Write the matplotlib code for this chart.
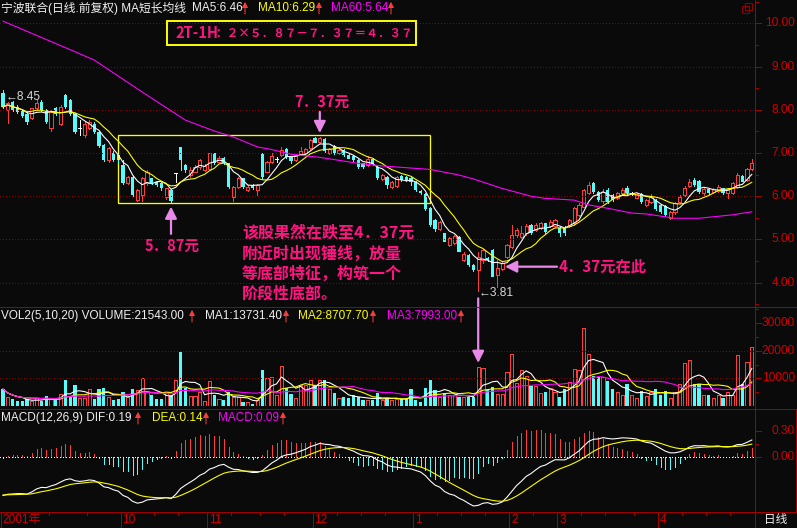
"""宁波联合 daily K-line, TDX dark style: price + MA, VOL2 and MACD panels."""
import numpy as np
import pandas as pd
import matplotlib
matplotlib.use("Agg")
import matplotlib.pyplot as plt
from matplotlib.patches import Rectangle, FancyArrowPatch
from matplotlib.lines import Line2D

W, H = 797, 528
BG     = "#0a0a0a"
UP     = "#ff3c3c"
DOWN   = "#54fcfc"
AXIS   = "#a00000"
LABEL  = "#d00000"
GRID   = "#8a0000"
PINK   = "#ff1482"
LILAC  = "#e888e8"
YELLOW = "#ffff00"
MAG    = "#ff00ff"
WHITE  = "#f0f0f0"
PX = 0.72  # one pixel in points at dpi 100
LW = 0.78  # indicator line width

plt.rcParams["font.family"] = ["Liberation Sans", "Noto Sans CJK SC", "DejaVu Sans"]
CJK = ["Noto Sans CJK SC", "DejaVu Sans"]

# ---- values (one candle per trading day) -----------------------------------
opens = [8.38, 7.99, 8.18, 8.07, 7.99, 7.91, 7.80, 8.03, 8.18, 7.99,
         7.57, 8.03, 7.68, 8.34, 8.22, 7.91, 7.57, 7.41, 7.57, 7.68,
         7.49, 7.18, 6.84, 6.99, 6.95, 6.72, 6.31, 6.45, 5.91, 6.03,
         6.30, 6.41, 6.33, 6.30, 5.99, 6.14, 6.54, 7.13, 6.72, 6.49,
         6.57, 6.68, 6.61, 6.64, 6.99, 6.80, 6.88, 6.76, 5.99, 6.22,
         6.41, 6.14, 6.26, 6.14, 6.97, 6.57, 6.80, 6.87, 6.95, 7.10,
         6.91, 6.84, 6.98, 7.00, 7.11, 7.34, 7.26, 7.33, 6.99, 7.16,
         6.99, 7.07, 6.95, 6.93, 6.84, 6.76, 6.72, 6.86, 6.67, 6.39,
         6.45, 6.22, 6.24, 6.47, 6.45, 6.43, 6.33, 6.13, 6.05, 5.72,
         5.45, 5.25, 5.14, 4.87, 4.91, 5.05, 4.53, 4.64, 4.41, 4.30,
         4.53, 4.58, 4.76, 4.18, 4.31, 4.60, 4.83, 5.10, 5.06, 5.14,
         5.33, 5.22, 5.26, 5.37, 5.30, 5.30, 5.26, 5.26, 5.30, 5.37,
         5.57, 5.76, 6.07, 6.30, 6.10, 5.88, 6.14, 6.03, 5.95, 6.07,
         6.20, 6.07, 5.97, 6.05, 5.80, 5.87, 5.91, 5.80, 5.78, 5.49,
         5.64, 5.87, 6.03, 6.24, 6.37, 6.35, 6.07, 6.16, 6.10, 6.13,
         6.18, 6.07, 6.07, 6.22, 6.47, 6.37, 6.62]
highs = [8.45, 8.17, 8.20, 8.10, 8.02, 7.95, 8.05, 8.22, 8.22, 8.02,
         7.98, 8.06, 8.10, 8.36, 8.25, 7.93, 7.76, 7.72, 7.76, 7.72,
         7.52, 7.20, 7.14, 7.05, 6.97, 6.84, 6.47, 6.47, 6.16, 6.45,
         6.60, 6.43, 6.35, 6.33, 6.20, 6.16, 6.54, 7.15, 6.74, 6.68,
         6.72, 6.86, 6.74, 7.01, 7.01, 6.93, 6.90, 6.78, 6.24, 6.45,
         6.43, 6.26, 6.28, 6.28, 6.99, 6.82, 6.99, 6.90, 7.13, 7.12,
         6.93, 6.97, 7.13, 7.12, 7.32, 7.36, 7.37, 7.35, 7.12, 7.18,
         7.11, 7.09, 6.97, 6.95, 6.86, 6.78, 6.93, 6.88, 6.69, 6.51,
         6.47, 6.35, 6.47, 6.49, 6.47, 6.45, 6.35, 6.15, 6.08, 5.74,
         5.47, 5.42, 5.16, 5.05, 5.10, 5.07, 4.70, 4.66, 4.43, 4.70,
         4.78, 4.60, 4.78, 4.52, 4.47, 4.89, 5.33, 5.26, 5.30, 5.35,
         5.35, 5.37, 5.41, 5.39, 5.45, 5.48, 5.28, 5.30, 5.47, 5.76,
         5.85, 6.16, 6.33, 6.33, 6.12, 6.16, 6.20, 6.05, 6.10, 6.20,
         6.24, 6.10, 6.07, 6.07, 5.93, 6.05, 5.93, 5.82, 5.80, 5.66,
         5.86, 6.03, 6.24, 6.39, 6.41, 6.37, 6.18, 6.18, 6.18, 6.26,
         6.20, 6.18, 6.33, 6.53, 6.49, 6.66, 6.85]
lows = [8.05, 7.70, 7.97, 7.92, 7.83, 7.68, 7.78, 8.00, 7.97, 7.70,
        7.50, 7.89, 7.65, 8.05, 7.89, 7.47, 7.41, 7.38, 7.55, 7.47,
        7.14, 6.82, 6.80, 6.82, 6.80, 6.28, 6.29, 6.00, 5.88, 5.88,
        6.26, 6.28, 6.24, 6.14, 5.93, 5.87, 6.34, 6.61, 6.57, 6.45,
        6.55, 6.63, 6.59, 6.62, 6.74, 6.78, 6.74, 6.20, 5.89, 6.18,
        6.20, 6.12, 6.16, 6.03, 6.43, 6.55, 6.76, 6.80, 6.93, 6.88,
        6.78, 6.82, 6.96, 6.98, 7.08, 7.22, 7.24, 7.03, 6.97, 6.98,
        6.97, 6.93, 6.85, 6.82, 6.65, 6.66, 6.70, 6.72, 6.39, 6.37,
        6.18, 6.20, 6.22, 6.35, 6.35, 6.26, 6.12, 6.05, 5.68, 5.31,
        5.20, 5.22, 4.93, 4.85, 4.89, 4.70, 4.50, 4.39, 4.26, 3.81,
        4.45, 4.50, 4.12, 3.91, 4.29, 4.58, 4.81, 5.06, 5.03, 5.10,
        5.12, 5.20, 5.24, 5.16, 5.28, 5.28, 5.08, 5.10, 5.28, 5.33,
        5.55, 5.74, 6.05, 6.08, 5.89, 5.85, 5.85, 5.89, 5.93, 6.05,
        6.05, 6.03, 5.95, 5.85, 5.78, 5.85, 5.68, 5.62, 5.55, 5.47,
        5.60, 5.85, 6.01, 6.22, 6.24, 6.08, 6.03, 6.05, 6.08, 6.10,
        6.05, 5.95, 6.05, 6.20, 6.32, 6.35, 6.60]
closes = [8.07, 8.15, 7.99, 7.95, 7.85, 7.72, 8.03, 8.15, 7.99, 7.72,
          7.95, 7.91, 8.07, 8.07, 7.91, 7.49, 7.57, 7.68, 7.72, 7.49,
          7.16, 6.84, 7.11, 6.84, 6.84, 6.30, 6.45, 6.03, 6.14, 6.41,
          6.56, 6.30, 6.26, 6.18, 6.18, 5.88, 6.54, 6.84, 6.61, 6.61,
          6.68, 6.84, 6.70, 6.99, 6.76, 6.88, 6.76, 6.22, 6.22, 6.41,
          6.22, 6.22, 6.18, 6.26, 6.45, 6.80, 6.93, 6.87, 7.07, 6.90,
          6.82, 6.95, 7.05, 7.10, 7.30, 7.24, 7.35, 7.05, 7.10, 7.00,
          7.08, 6.95, 6.87, 6.84, 6.67, 6.68, 6.86, 6.74, 6.41, 6.49,
          6.26, 6.33, 6.45, 6.37, 6.37, 6.33, 6.14, 6.07, 5.70, 5.33,
          5.25, 5.40, 4.95, 5.03, 5.07, 4.72, 4.66, 4.41, 4.30, 4.60,
          4.76, 4.52, 4.14, 4.33, 4.45, 4.87, 5.10, 5.22, 5.14, 5.31,
          5.14, 5.33, 5.37, 5.18, 5.41, 5.45, 5.14, 5.14, 5.45, 5.72,
          5.80, 6.14, 6.26, 6.10, 5.91, 6.10, 5.87, 5.91, 6.07, 6.14,
          6.07, 6.07, 6.05, 5.87, 5.91, 5.99, 5.70, 5.64, 5.57, 5.64,
          5.84, 5.99, 6.18, 6.34, 6.26, 6.10, 6.16, 6.07, 6.16, 6.22,
          6.07, 6.16, 6.30, 6.49, 6.34, 6.64, 6.76]
volumes = [6100, 3300, 2500, 1800, 1800, 2500, 1800, 2800, 1900, 3600,
           2400, 2400, 4300, 9300, 3600, 7500, 2800, 2800, 6300, 2500,
           6100, 6500, 3300, 2100, 2400, 5200, 3300, 6300, 5900, 10200,
           5400, 3900, 2500, 2500, 5000, 3900, 9300, 19700, 6500, 3600,
           3600, 5000, 1700, 8900, 4100, 2500, 2100, 5000, 3300, 3300,
           1500, 1500, 700, 2100, 13200, 10200, 10600, 4000, 14600, 6500,
           4300, 2800, 7500, 7500, 9300, 7500, 9600, 9600, 6300, 4600,
           3000, 3300, 3000, 4000, 3300, 2000, 2200, 2000, 4600, 2000,
           3000, 2000, 2500, 2700, 2700, 6100, 2100, 1500, 6700, 9300,
           5800, 3300, 4800, 4000, 4000, 3300, 3300, 3300, 3300, 14300,
           13600, 5800, 7000, 4200, 4200, 12200, 18800, 8500, 13100, 11000,
           7400, 7100, 4700, 4900, 6700, 4900, 3300, 6300, 8700, 13500,
           13000, 28300, 18800, 10800, 10500, 10400, 9000, 6000, 5000, 4000,
           8000, 4000, 3000, 5500, 3500, 5000, 6000, 4000, 5500, 3000,
           5000, 8000, 15500, 16700, 8000, 8000, 4000, 4000, 3000, 4000,
           3000, 5000, 4000, 18600, 8000, 16000, 21543]
# MA60 read at points along the magenta line (its history lies before the window)
ma60_idx = [0, 14, 19, 29, 38, 44, 48, 53, 56, 60, 66, 74, 79, 89, 95, 98,
            104, 110, 113, 119, 122, 126, 131, 134, 140, 145, 152, 156]
ma60_val = [10.05, 9.39, 9.15, 8.41, 7.76, 7.51, 7.37, 7.14, 7.08, 6.97, 6.90,
            6.76, 6.70, 6.62, 6.49, 6.40, 6.18, 6.00, 5.95, 5.91, 5.80, 5.72,
            5.61, 5.59, 5.49, 5.49, 5.57, 5.64]
# EMA state on the first day, read from where DIF/DEA start at the left edge
ema12_seed, ema26_seed, dea_seed = 8.45, 8.90, -0.44
month_labels = ["10", "11", "12", "1", "2", "3", "4"]
month_start = [25, 43, 65, 86, 106, 116, 137]
week_start = [10, 18, 32, 37, 48, 54, 59, 70, 75, 80, 91, 96, 101,
              111, 121, 126, 132, 142, 147, 152]

o, h, l, c = (np.array(a) for a in (opens, highs, lows, closes))
vol = np.array(volumes, dtype=float)
idx = np.arange(len(c))

# pixel <-> data helpers (candle pitch 4.8 px, price 43.23 px per yuan)
def xi(px):
    return (px - 3.0) / 4.8

def yp(py):
    return 10 - (py - 23.3) / 43.23

def fx(px):
    return px / W

def fy(py):
    return 1 - py / H


fig = plt.figure(figsize=(W / 100, H / 100), dpi=100, facecolor=BG)


def panel(top, bottom):
    ax = fig.add_axes([0, fy(bottom), 755 / W, (bottom - top) / H])
    ax.set_facecolor("none")
    ax.set_xlim(xi(0), xi(755))
    for s in ax.spines.values():
        s.set_visible(False)
    ax.set_xticks([])
    ax.set_yticks([])
    return ax


def right_axis(ax, majors, minors, fmt):
    tr = ax.get_yaxis_transform()
    for v in majors:
        ax.plot([1, 1 + 6 / 755], [v, v], transform=tr, color=AXIS, lw=PX,
                clip_on=False, antialiased=False)
        ax.text(1 + 40 / 755, v, fmt(v), transform=tr, ha="right", va="center",
                color=LABEL, fontsize=8.6, clip_on=False)
    for v in minors:
        ax.plot([1, 1 + 3 / 755], [v, v], transform=tr, color=AXIS, lw=PX,
                clip_on=False, antialiased=False)


def dotted(ax, v, color=GRID):
    ax.axhline(v, color=color, lw=PX, ls=(0, (1, 2.6)), antialiased=False)


def red_up(x, y):
    fig.add_artist(FancyArrowPatch((fx(x), fy(y + 6)), (fx(x), fy(y - 6)),
                                   transform=fig.transFigure, color=UP, lw=PX,
                                   arrowstyle="-|>,head_length=3.2,head_width=1.7",
                                   mutation_scale=1, shrinkA=0, shrinkB=0))


def title(y, parts, arrows):
    for s, x, col in parts:
        fig.text(fx(x), fy(y), s, color=col, fontsize=8.5, ha="left", va="center")
    for x in arrows:
        red_up(x, y)


# ---- price panel -------------------------------------------------------------
ax_p = panel(15, 306)
ax_p.set_ylim(yp(306), yp(15))
for v in range(4, 11):
    dotted(ax_p, v)
right_axis(ax_p, range(4, 11), np.arange(3.5, 10.6, 1.0), lambda v: f"{v:.2f}")

up, dn, flat = c > o, c < o, c == o
BW = 0.7
cols = np.where(up, UP, np.where(dn, DOWN, "white"))
ax_p.vlines(idx, l, np.minimum(o, c), colors=cols, lw=PX, antialiased=False)
ax_p.vlines(idx, np.maximum(o, c), h, colors=cols, lw=PX, antialiased=False)
ax_p.bar(idx[up], (c - o)[up], bottom=o[up], width=BW, facecolor=BG,
         edgecolor=UP, lw=PX, antialiased=False)
ax_p.bar(idx[dn], (o - c)[dn], bottom=c[dn], width=BW, color=DOWN,
         antialiased=False)
ax_p.hlines(o[flat], idx[flat] - BW / 2, idx[flat] + BW / 2, colors="white",
            lw=PX, antialiased=False)

closes_s = pd.Series(c)
ax_p.plot(idx, closes_s.rolling(5, min_periods=1).mean(), color="white", lw=LW)
ax_p.plot(idx, closes_s.rolling(10, min_periods=1).mean(), color=YELLOW, lw=LW)
ax_p.plot(ma60_idx, ma60_val, color=MAG, lw=LW)

# consolidation box between the 5.87 low and the 7.37 high
b0, b1 = 24, 88
lo_T, hi_H = l[b0:b1].min(), h[b0:b1].max()
ax_p.add_patch(Rectangle((xi(118), lo_T - 0.02), xi(430) - xi(118),
                         hi_H + 0.05 - lo_T + 0.02, fill=False, ec=YELLOW,
                         lw=PX * 1.3))
target = 2 * lo_T - hi_H

arrow = dict(arrowstyle="-|>,head_length=0.7,head_width=0.35", color=LILAC,
             lw=1.6, mutation_scale=10, shrinkA=0, shrinkB=0)
i_H, i_T = b0 + int(np.argmax(h[b0:b1])), b0 + int(np.argmin(l[b0:b1]))
ax_p.annotate("", xy=(i_H, hi_H + 0.09), xytext=(i_H, hi_H + 0.58), arrowprops=arrow)
ax_p.annotate("", xy=(i_T, lo_T - 0.11), xytext=(i_T, lo_T - 0.74), arrowprops=arrow)
ax_p.annotate("", xy=(xi(505), target), xytext=(xi(557), target), arrowprops=arrow)

i_lo, i_hi = int(np.argmin(l)), int(np.argmax(h))
ax_p.annotate(f"←{l[i_lo]:.2f}", xy=(i_lo, l[i_lo]), xytext=(0, -2.5 * PX),
              textcoords="offset points", color="#d8d8d8", fontsize=8.6,
              va="center", ha="left")
ax_p.annotate(f"←{h[i_hi]:.2f}", xy=(i_hi, h[i_hi]), xytext=(3 * PX, -7 * PX),
              textcoords="offset points", color="#d8d8d8", fontsize=8.6,
              va="center", ha="left")

# ---- volume panel ------------------------------------------------------------
ax_v = panel(307, 406)
ax_v.set_ylim(0, (406 - 307) / 27.6 * 10000)
for v in (10000, 20000):
    dotted(ax_v, v)
right_axis(ax_v, [10000, 20000, 30000], [5000, 15000, 25000, 35000],
           lambda v: f"{v:.0f}")
vup = c >= o
ax_v.bar(idx[vup], vol[vup], width=BW, facecolor=BG, edgecolor=UP, lw=PX,
         antialiased=False)
ax_v.bar(idx[~vup], vol[~vup], width=BW, color=DOWN, antialiased=False)
vol_s = pd.Series(vol)
for n, col in ((5, "white"), (10, YELLOW), (20, MAG)):
    ax_v.plot(idx, vol_s.rolling(n, min_periods=1).mean(), color=col, lw=LW)
ax_v.annotate("", xy=(i_lo, vol[i_lo] + 1300), xytext=(i_lo, 39000),
              arrowprops=arrow, annotation_clip=False)

# ---- MACD panel --------------------------------------------------------------
ax_m = panel(409, 512)
ax_m.set_ylim(-(512 - 456.7) / 86.7, (456.7 - 409) / 86.7)
right_axis(ax_m, [0.0, 0.3], [0.15], lambda v: f"{v:.2f}")
e12, e26, dea = ema12_seed, ema26_seed, dea_seed
difs, deas = [], []
for cl in c:
    e12 += (cl - e12) * 2 / 13
    e26 += (cl - e26) * 2 / 27
    dea += ((e12 - e26) - dea) * 2 / 10
    difs.append(e12 - e26)
    deas.append(dea)
difs, deas = np.array(difs), np.array(deas)
hist = 2 * (difs - deas)
ax_m.vlines(idx, 0, hist, colors=np.where(hist >= 0, UP, DOWN), lw=PX,
            antialiased=False)
dotted(ax_m, 0, color="white")
ax_m.plot(idx, difs, color="white", lw=LW)
ax_m.plot(idx, deas, color=YELLOW, lw=LW)

# ---- date strip --------------------------------------------------------------
ax_d = panel(512, 528)
ax_d.set_ylim(0, 1)
ax_d.vlines(np.array(month_start) - 0.5, 0, 1, colors=AXIS, lw=PX, antialiased=False)
ax_d.vlines([xi(0.5)], 0, 1, colors=AXIS, lw=PX, antialiased=False)
ax_d.vlines(np.array(week_start) - 0.5, 1 - 3 / 16, 1, colors=AXIS, lw=PX,
            antialiased=False)
for lab, m in zip(month_labels, month_start):
    ax_d.text(m - 0.1, 0.5, lab, color=LABEL, fontsize=8.6, va="center", ha="left")
ax_d.text(xi(2), 0.5, "2001年", color=LABEL, fontsize=8.6, va="center", ha="left")
fig.text(fx(764), fy(520), "日线", color=WHITE, fontsize=8.4, va="center", ha="left")

# ---- frame lines -------------------------------------------------------------
for y in (306.5, 408.5, 511.5):
    fig.add_artist(Line2D([0, 1], [fy(y)] * 2, color=AXIS, lw=PX,
                          transform=fig.transFigure, antialiased=False))
fig.add_artist(Line2D([fx(754.5)] * 2, [0, 1], color=AXIS, lw=PX,
                      transform=fig.transFigure, antialiased=False))
fig.add_artist(Line2D([fx(796)] * 2, [fy(409), fy(512)], color=AXIS, lw=PX,
                      transform=fig.transFigure, antialiased=False))
for x0, y0 in ((742, 6), (745, 3)):
    fig.add_artist(Rectangle((fx(x0), fy(y0 + 7)), 7 / W, 7 / H, fill=False,
                             ec="#900000", lw=PX, transform=fig.transFigure))

# ---- titles ------------------------------------------------------------------
title(8, [("宁波联合(日线.前复权) MA短长均线", 1, WHITE), ("MA5:6.46", 192, WHITE),
          ("MA10:6.29", 258, YELLOW), ("MA60:5.64", 331, MAG)],
      [245, 319, 391])
title(316, [("VOL2(5,10,20) VOLUME:21543.00", 1, WHITE),
            ("MA1:13731.40", 205, WHITE), ("MA2:8707.70", 298, YELLOW),
            ("MA3:7993.00", 387, MAG)],
      [192, 286, 373, 461])
title(418, [("MACD(12,26,9) DIF:0.19", 1, WHITE), ("DEA:0.14", 152, YELLOW),
            ("MACD:0.09", 218, MAG)],
      [138, 206, 283])

# ---- pink commentary ---------------------------------------------------------
fig.add_artist(Rectangle((fx(167), fy(45)), 249 / W, 24 / H, fill=False,
                         ec=YELLOW, lw=1.4, transform=fig.transFigure))
fig.text(fx(175), fy(33), "2T-1H", color=PINK, fontsize=10.5,
         fontweight="bold", family=CJK, va="center", ha="left")
fig.text(fx(215), fy(33), "：２×５．８７－７．３７＝４．３７", color=PINK, fontsize=8.4,
         fontweight="bold", family=CJK, va="center", ha="left")
fig.text(fx(322), fy(102), "7．37元", color=PINK, fontsize=10.5,
         fontweight="bold", family=CJK, va="center", ha="center")
fig.text(fx(172), fy(246), "5．87元", color=PINK, fontsize=10.5,
         fontweight="bold", family=CJK, va="center", ha="center")
fig.text(fx(559), fy(267), f"{target:.2f}".replace(".", "．") + "元在此", color=PINK,
         fontsize=11, fontweight="bold", family=CJK, va="center", ha="left")
for k, line in enumerate(["该股果然在跌至4．37元", "附近时出现锤线，放量",
                          "等底部特征，构筑一个", "阶段性底部。"]):
    fig.text(fx(242), fy(233 + 20.3 * k), line, color=PINK, fontsize=11.5,
             fontweight="bold", family=CJK, va="center", ha="left")

fig.savefig("out.png", dpi=100, facecolor=BG)
